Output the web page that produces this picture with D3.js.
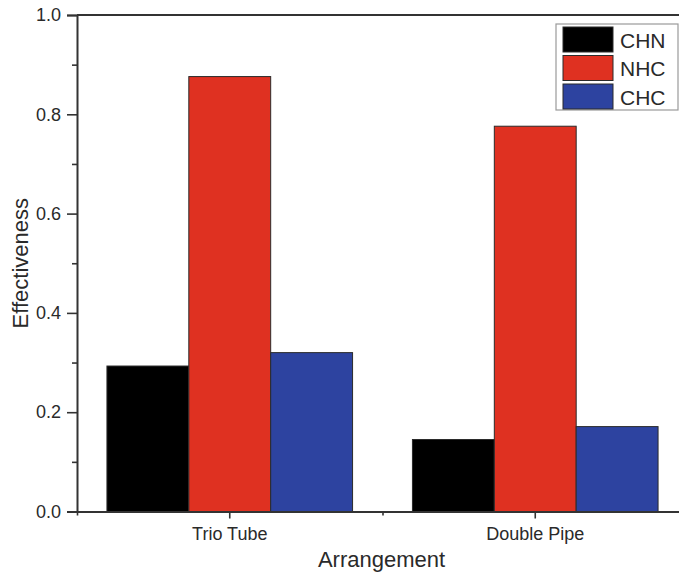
<!DOCTYPE html>
<html>
<head>
<meta charset="utf-8">
<script src="https://cdn.jsdelivr.net/npm/d3@7"></script>
<style>
  html, body { margin: 0; padding: 0; background: #fff; }
  svg { display: block; font-family: "Liberation Sans", Arial, sans-serif; }
</style>
</head>
<body>
<svg id="chart" width="679" height="575"></svg>
<script>
// Effectiveness of each configuration, grouped by arrangement
const categories = ["Trio Tube", "Double Pipe"];
const seriesNames = ["CHN", "NHC", "CHC"];
const seriesColors = ["#000000", "#df3121", "#2d43a0"];
const valuesCHN = [0.293, 0.145];
const valuesNHC = [0.876, 0.776];
const valuesCHC = [0.320, 0.171];
const yTicks = [0.0, 0.2, 0.4, 0.6, 0.8, 1.0];
const yMinorTicks = [0.1, 0.3, 0.5, 0.7, 0.9];

const seriesValues = [valuesCHN, valuesNHC, valuesCHC];
const rows = categories.map((c, i) => ({
  category: c,
  values: seriesNames.map((s, j) => ({ series: s, value: seriesValues[j][i], color: seriesColors[j] }))
}));

const svg = d3.select("#chart");
const margin = { left: 77, top: 15 };
const plotW = 611, plotH = 496.5;
const axisColor = "#333";
const textColor = "#2a2a2a";

const g = svg.append("g").attr("transform", `translate(${margin.left},${margin.top})`);

const x0 = d3.scaleBand().domain(categories).range([0, plotW])
  .paddingInner(0.196).paddingOuter(0.098);
const x1 = d3.scaleBand().domain(seriesNames).range([0, x0.bandwidth()]).padding(0);
const y = d3.scaleLinear().domain([0, 1]).range([plotH, 0]);

// Bars
g.selectAll("g.group").data(rows).join("g")
  .attr("class", "group")
  .attr("transform", d => `translate(${x0(d.category)},0)`)
  .selectAll("rect").data(d => d.values).join("rect")
  .attr("x", d => x1(d.series))
  .attr("y", d => y(d.value))
  .attr("width", x1.bandwidth())
  .attr("height", d => y(0) - y(d.value))
  .attr("fill", d => d.color)
  .attr("stroke", "#2b2b2b")
  .attr("stroke-width", 1);

// Y axis: major and minor ticks
g.append("g")
  .call(d3.axisLeft(y).tickValues(yTicks).tickFormat(d3.format(".1f")).tickSize(10).tickPadding(6));
g.append("g")
  .call(d3.axisLeft(y).tickValues(yMinorTicks).tickFormat("").tickSize(5))
  .call(a => a.select(".domain").remove());

// X axis: category ticks and minor ticks at group boundaries
g.append("g").attr("transform", `translate(0,${plotH})`)
  .call(d3.axisBottom(x0).tickSize(7).tickPadding(9).tickSizeOuter(0));
const boundaries = [0, x0.step(), 2 * x0.step()];
const xMinor = d3.scaleLinear().domain([0, plotW]).range([0, plotW]);
g.append("g").attr("transform", `translate(0,${plotH})`)
  .call(d3.axisBottom(xMinor).tickValues(boundaries).tickFormat("").tickSize(4))
  .call(a => a.select(".domain").remove());

// Top spine
g.append("line")
  .attr("x1", 0).attr("x2", plotW).attr("y1", 0).attr("y2", 0)
  .attr("stroke", axisColor).attr("stroke-width", 2);

g.selectAll(".domain").attr("stroke", axisColor).attr("stroke-width", 2);
g.selectAll(".tick line").attr("stroke", axisColor).attr("stroke-width", 1.6);
g.selectAll(".tick text").attr("fill", textColor).style("font-size", "18px")
  .style("font-family", "'Liberation Sans', Arial, sans-serif");

// Axis titles
svg.append("text")
  .attr("x", margin.left + plotW / 2 - 1).attr("y", 567)
  .attr("text-anchor", "middle").attr("fill", textColor)
  .style("font-size", "22px").text("Arrangement");
svg.append("text")
  .attr("transform", `translate(28,${margin.top + plotH / 2}) rotate(-90)`)
  .attr("text-anchor", "middle").attr("fill", textColor)
  .style("font-size", "22px").text("Effectiveness");

// Legend
const legend = svg.append("g").attr("transform", "translate(556,24)");
legend.append("rect")
  .attr("x", 0).attr("y", 0).attr("width", 122).attr("height", 86)
  .attr("fill", "#fff").attr("stroke", "#9a9a9a").attr("stroke-width", 1.2);
const items = legend.selectAll("g.item").data(seriesNames).join("g")
  .attr("class", "item")
  .attr("transform", (d, i) => `translate(7,${3 + i * 28.5})`);
items.append("rect")
  .attr("width", 50).attr("height", 25)
  .attr("fill", (d, i) => seriesColors[i])
  .attr("stroke", "#2b2b2b").attr("stroke-width", 1);
items.append("text")
  .attr("x", 57).attr("y", 20.5)
  .attr("fill", textColor).style("font-size", "21px")
  .text(d => d);
</script>
</body>
</html>
